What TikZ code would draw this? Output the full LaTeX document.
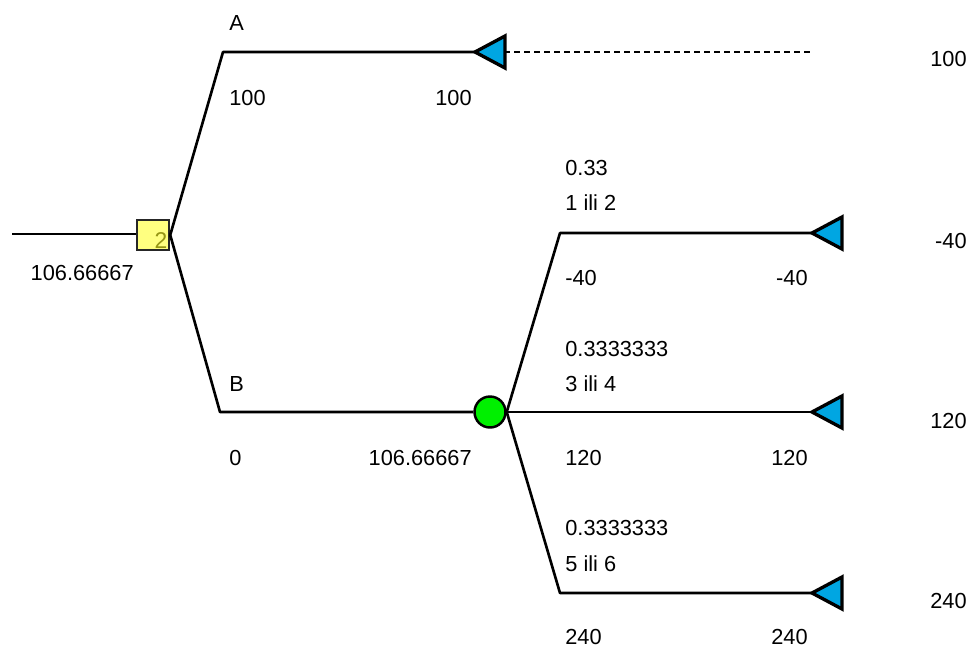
\documentclass[tikz,border=0pt]{standalone}
\usepackage{fontspec}
\setmainfont{Liberation Sans}
\usetikzlibrary{positioning}

\definecolor{leafblue}{RGB}{0,166,226}
\definecolor{chancegreen}{RGB}{0,240,0}
\definecolor{decyellow}{RGB}{255,255,128}
\definecolor{numolive}{RGB}{150,150,20}

\tikzset{
  branch/.style={line width=1.5pt, line join=round},
  decision/.style={draw=black!85, fill=decyellow, line width=1.4pt, minimum width=0.64cm, minimum height=0.6cm, inner sep=0pt},
  chance/.style={circle, draw=black, fill=chancegreen, line width=1.4pt, minimum size=0.62cm, inner sep=0pt},
  leaf/.style={draw=black, fill=leafblue, line width=1.9pt, line join=miter},
  lbl/.style={inner sep=0pt}
}

\begin{document}
\begin{tikzpicture}[x=0.02cm, y=-0.02cm, font=\fontsize{12.4}{14}\selectfont]
      \useasboundingbox (0,0) rectangle (970,646);

      % 1. 節點與轉折點
      \coordinate (root) at (12,234);
      \node[decision] (d) at (153,235) {};
      \node[anchor=south east, text=numolive, inner sep=1.5pt, font=\fontsize{13}{14}\selectfont] (dnum) at (d.south east) {2};
      \coordinate (a) at (223,52);
      \coordinate (b) at (220,412);
      \node[chance] (c) at (490,412) {};
      \coordinate (c1) at (560,233);
      \coordinate (c3) at (560,593);

      % 2. 終點三角形的頂點
      \coordinate (t1) at (475,52);
      \coordinate (t1b) at (504,52);
      \coordinate (e1) at (812,52);
      \coordinate (t2) at (812,233);
      \coordinate (t3) at (812,412);
      \coordinate (t4) at (812,593);

      % 3. 分支
      \draw[branch] (root) -- (d.west |- root);
      \draw[branch] (d.east) -- (a) -- (t1);
      \draw[branch] (d.east) -- (b) -- (c.west);
      \draw[branch] (c.east) -- (c1) -- (t2);
      \draw[branch] (c.east) -- (t3);
      \draw[branch] (c.east) -- (c3) -- (t4);
      \draw[line width=0.6pt, dash pattern=on 3.4pt off 2.3pt] (t1b) -- (e1);

      % 4. 終點
      \foreach \t in {t1,t2,t3,t4}
        \draw[leaf] (\t) -- ++(30,-16) -- ++(0,32) -- cycle;

      % 5. 標籤
      \node[lbl, anchor=base east] (vroot) at (134,280) {106.66667};
      \node[lbl, anchor=base west] (la) at (229,30) {A};
      \node[lbl, anchor=base west] (va) at (229,105) {100};
      \node[lbl, anchor=base east] (va2) at (472,105) {100};
      \node[lbl, anchor=base east] (ra) at (967,66) {100};
      \node[lbl, anchor=base west] (lb) at (229,391) {B};
      \node[lbl, anchor=base west] (vb) at (229,465) {0};
      \node[lbl, anchor=base east] (vc) at (472,465) {106.66667};

      \node[lbl, anchor=base west] (p1) at (565,175) {0.33};
      \node[lbl, anchor=base west] (l1) at (565,210) {1 ili 2};
      \node[lbl, anchor=base west] (v1) at (565,285) {-40};
      \node[lbl, anchor=base east] (w1) at (808,285) {-40};
      \node[lbl, anchor=base east] (r1) at (967,248) {-40};

      \node[lbl, anchor=base west] (p2) at (565,356) {0.3333333};
      \node[lbl, anchor=base west] (l2) at (565,391) {3 ili 4};
      \node[lbl, anchor=base west] (v2) at (565,465) {120};
      \node[lbl, anchor=base east] (w2) at (808,465) {120};
      \node[lbl, anchor=base east] (r2) at (967,428) {120};

      \node[lbl, anchor=base west] (p3) at (565,535) {0.3333333};
      \node[lbl, anchor=base west] (l3) at (565,571) {5 ili 6};
      \node[lbl, anchor=base west] (v3) at (565,644) {240};
      \node[lbl, anchor=base east] (w3) at (808,644) {240};
      \node[lbl, anchor=base east] (r3) at (967,608) {240};
    \end{tikzpicture}
\end{document}
